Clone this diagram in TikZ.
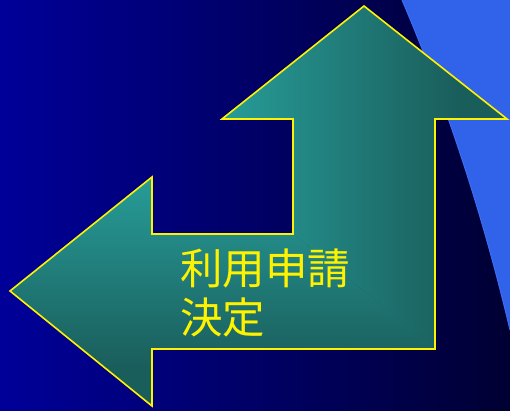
\documentclass[tikz,border=0pt]{standalone}
\usepackage{fontspec}
\newfontfamily\cjk{Noto Sans CJK JP}
\definecolor{bgL}{HTML}{000099}
\definecolor{bgR}{HTML}{000033}
\definecolor{sky}{HTML}{3162EA}
\definecolor{skyedge}{HTML}{3A6EF2}
\definecolor{tealA}{HTML}{33D5CF}
\definecolor{tealB}{HTML}{1A5E5C}
\tikzset{
  txt/.style={anchor=base west, inner sep=0pt, text=yellow, font=\cjk\fontsize{42.5}{42.5}\selectfont},
  arrowline/.style={draw=yellow, line width=1.6pt, line join=miter}
}
\begin{document}
\begin{tikzpicture}[x=1pt,y=-1pt]
\useasboundingbox (0,0) rectangle (510,411);
% background
\shade[left color=bgL,right color=bgR] (0,0) rectangle (510,411);
% light blue curved shape
\fill[sky] (402,0) .. controls (449,110) and (484,220) .. (510,330) -- (510,0) -- cycle;
\draw[skyedge, line width=1pt] (402,0) .. controls (449,110) and (484,220) .. (510,330);
% arrow shape
\def\arrowpath{(364,6) -- (507,119) -- (435,119) -- (435,349) -- (152,349) -- (152,406) -- (10,291) -- (152,177) -- (152,234) -- (293,234) -- (293,119) -- (222,119) -- cycle}
\begin{scope}
  \clip \arrowpath;
  \fill[tealB] (0,0) rectangle (510,411);
  \shade[top color=tealA,bottom color=tealB] (10,6) rectangle (507,366);
  \begin{scope}
    \clip (10,6) -- (507,6) -- (507,406) -- cycle;
    \fill[tealB] (0,0) rectangle (510,411);
    \shade[left color=tealA,right color=tealB] (10,6) rectangle (457,406);
  \end{scope}
\end{scope}
\draw[arrowline] \arrowpath;
% text
\node[txt] (l1) at (180,284) {利用申請};
\node[txt] (l2) at (180,333) {決定};
\end{tikzpicture}
\end{document}
